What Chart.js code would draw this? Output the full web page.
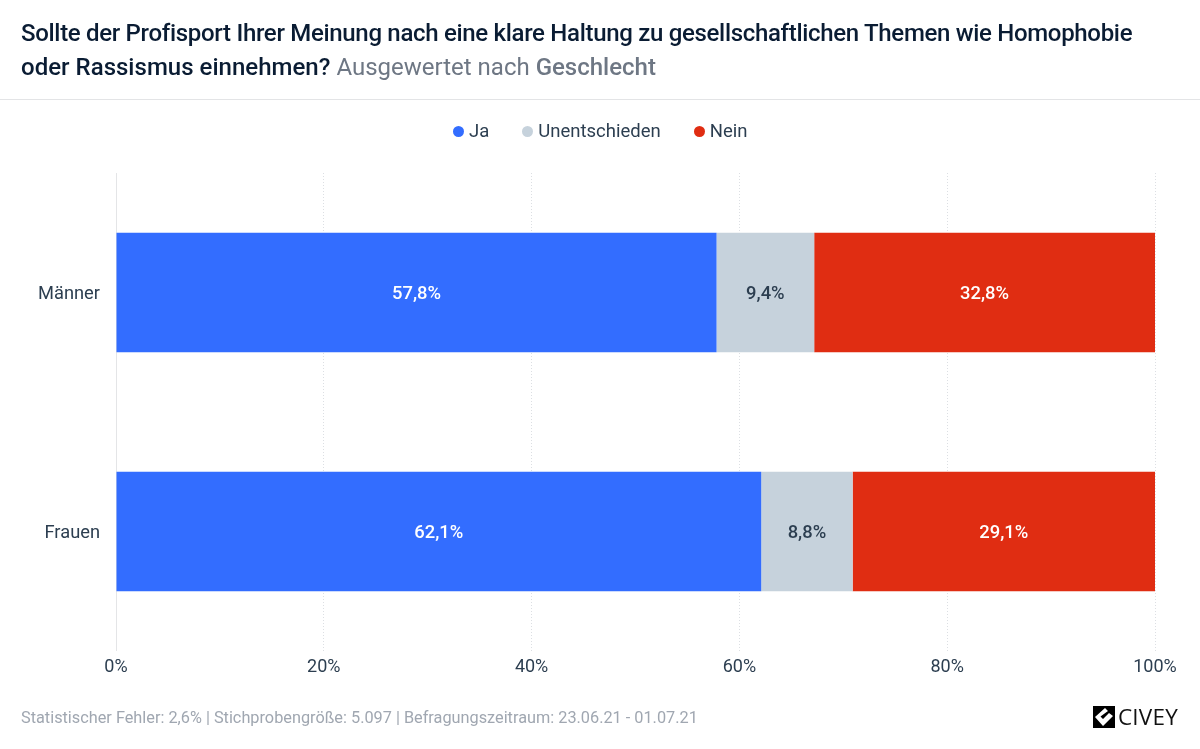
<!DOCTYPE html>
<html lang="de">
<head>
<meta charset="utf-8">
<title>Civey</title>
<script src="https://cdn.jsdelivr.net/npm/chart.js@4"></script>
<style>
  html, body { margin: 0; padding: 0; background: #fff; }
  body { width: 1200px; height: 749px; position: relative; overflow: hidden; font-family: Roboto, sans-serif; }
  #chart { position: absolute; left: 0; top: 0; }
  #title { position: absolute; left: 21px; top: 16px; width: 1175px; font-size: 24px; line-height: 34px; font-weight: 500; color: #0a1c33; white-space: nowrap; }
  #title .l1 { letter-spacing: -0.31px; }
  #title .l2 { letter-spacing: 0.02px; }
  #title .sub { color: #6e7784; font-weight: 400; }
  #title .sub b { font-weight: 500; }
  #rule { position: absolute; left: 0; top: 99px; width: 1200px; height: 1px; background: #e3e4e6; }
  #legend { position: absolute; top: 120px; left: 453px; height: 22px; display: flex; font-size: 18.5px; line-height: 22px; color: #2c3e50; }
  #legend span.item { display: flex; align-items: center; margin-right: 33px; }
  #legend i { width: 11px; height: 11px; border-radius: 50%; margin-right: 5px; display: block; }
  #footer { position: absolute; left: 21px; top: 709px; font-size: 16.3px; line-height: 18px; color: #a0a7b1; }
  #logo { position: absolute; left: 1093px; top: 706px; display: flex; align-items: center; }
  #logo span { font-family: "Open Sans", sans-serif; font-size: 22.5px; line-height: 22px; color: #111; margin-left: 3px; letter-spacing: 0.2px; }
</style>
</head>
<body>
<canvas id="chart" width="1200" height="749"></canvas>
<div id="title"><span class="l1">Sollte der Profisport Ihrer Meinung nach eine klare Haltung zu gesellschaftlichen Themen wie Homophobie</span><br><span class="l2">oder Rassismus einnehmen?</span> <span class="sub">Ausgewertet nach <b>Geschlecht</b></span></div>
<div id="rule"></div>
<div id="legend"></div>
<div id="footer">Statistischer Fehler: 2,6% | Stichprobengröße: 5.097 | Befragungszeitraum: 23.06.21 - 01.07.21</div>
<div id="logo">
  <svg width="22" height="22" viewBox="0 0 22 22"><rect width="22" height="22" fill="#000"/><path d="M12 2 L2 11 L10 20 L20 10 L16 7 L10 13 L7.5 10.5 L15 5 Z" fill="#fff"/></svg>
  <span>CIVEY</span>
</div>
<script>
const categories = ['Männer', 'Frauen']
const ja = [57.8, 62.1]
const unentschieden = [9.4, 8.8]
const nein = [32.8, 29.1]
const xTicks = [0, 20, 40, 60, 80, 100]

const BLUE = '#336dff'
const GREY = '#c6d2dc'
const RED = '#e02d12'
const TEXT = '#2c3e50'

// legend
const seriesNames = ['Ja', 'Unentschieden', 'Nein']
const seriesColors = [BLUE, GREY, RED]
document.getElementById('legend').innerHTML = seriesNames.map((name, i) =>
  '<span class="item"><i style="background:' + seriesColors[i] + '"></i>' + name + '</span>'
).join('')

// value labels inside the bars
const barLabels = {
  id: 'barLabels',
  afterDatasetsDraw(chart) {
    const ctx = chart.ctx
    ctx.save()
    ctx.font = '500 18.4px Roboto, sans-serif'
    ctx.textAlign = 'center'
    ctx.textBaseline = 'middle'
    chart.data.datasets.forEach((ds, i) => {
      chart.getDatasetMeta(i).data.forEach((bar, j) => {
        const c = bar.getCenterPoint()
        ctx.fillStyle = ds.labelColor
        ctx.fillText(ds.data[j].toFixed(1).replace('.', ',') + '%', c.x, c.y + 1.5)
      })
    })
    ctx.restore()
  }
}

new Chart(document.getElementById('chart'), {
  type: 'bar',
  data: {
    labels: categories,
    datasets: [
      { label: 'Ja', data: ja, backgroundColor: BLUE, labelColor: '#ffffff' },
      { label: 'Unentschieden', data: unentschieden, backgroundColor: GREY, labelColor: TEXT },
      { label: 'Nein', data: nein, backgroundColor: RED, labelColor: '#ffffff' }
    ]
  },
  options: {
    indexAxis: 'y',
    responsive: false,
    animation: false,
    barPercentage: 0.5,
    categoryPercentage: 1,
    layout: { padding: { top: 173, right: 45, left: 0, bottom: 0 } },
    plugins: { legend: { display: false }, tooltip: { enabled: false } },
    scales: {
      x: {
        stacked: true,
        min: 0,
        max: 100,
        afterBuildTicks: axis => { axis.ticks = xTicks.map(v => ({ value: v })) },
        afterFit: axis => { axis.height = 98 },
        grid: {
          drawTicks: false,
          lineWidth: 1,
          color: ctx => ctx.tick && ctx.tick.value === 0 ? '#e4e5e7' : '#dcdfe3'
        },
        border: {
          display: false,
          dash: ctx => ctx.tick && ctx.tick.value === 0 ? [] : [1, 2]
        },
        ticks: {
          padding: 6,
          maxRotation: 0,
          color: TEXT,
          font: { family: 'Roboto, sans-serif', size: 18 },
          callback: v => v + '%'
        }
      },
      y: {
        stacked: true,
        afterFit: axis => { axis.width = 116 },
        grid: { display: false, drawTicks: false },
        border: { display: false },
        ticks: {
          padding: 16,
          labelOffset: 1.5,
          color: TEXT,
          font: { family: 'Roboto, sans-serif', size: 18.3 }
        }
      }
    }
  },
  plugins: [barLabels]
})
</script>
</body>
</html>
